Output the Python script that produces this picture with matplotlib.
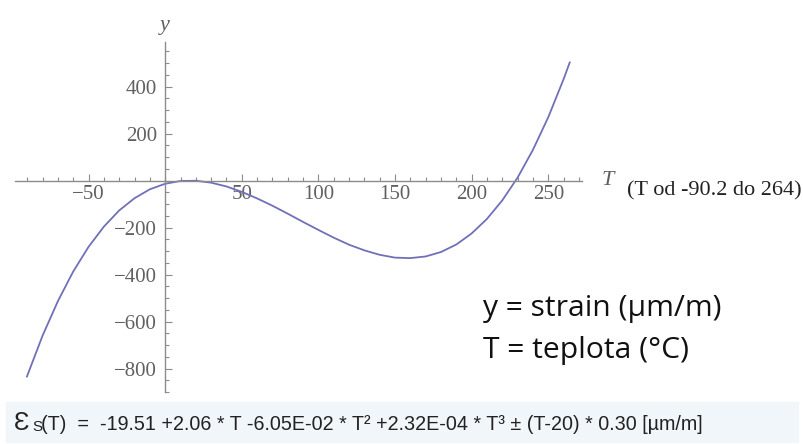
import matplotlib
matplotlib.use('Agg')
import matplotlib.pyplot as plt
from matplotlib.ticker import FixedLocator, MultipleLocator

# strain curve values (T in deg C, strain in um/m)
temps = [-90.2, -80, -70, -60, -50, -40, -30, -20, -10, 0, 10, 20, 30, 40, 50, 60, 70, 80, 90,
         100, 110, 120, 130, 140, 150, 160, 170, 180, 190, 200, 210, 220, 230, 240, 250, 260, 264]
strain = [-834, -660, -513, -387, -282, -196, -127, -75, -37, -13.5, -1.7, -0.6, -8.9, -25, -48, -76,
          -107, -141, -176, -210, -243, -273, -297, -316, -328, -330, -323, -304, -272, -225, -163,
          -84, 13, 131, 270, 432, 503]

x_ticks = [-50, 50, 100, 150, 200, 250]
y_ticks = [-800, -600, -400, -200, 200, 400]

line_col = '#7070b8'
axis_col = '#8c8c8c'
label_col = '#606060'

fig = plt.figure(figsize=(8.04, 4.44), dpi=100)
ax = fig.add_axes([15 / 804, 52 / 444, 567 / 804, 350 / 444])

ax.plot(temps, strain, color=line_col, lw=1.3)

ax.set_xlim(-98, 272)
ax.set_ylim(-900, 590)

for s in ['top', 'right']:
    ax.spines[s].set_visible(False)
ax.spines['left'].set_position(('data', 0))
ax.spines['bottom'].set_position(('data', 0))
for s in ['left', 'bottom']:
    ax.spines[s].set_color(axis_col)
    ax.spines[s].set_linewidth(1.0)

ax.xaxis.set_major_locator(FixedLocator(x_ticks))
ax.yaxis.set_major_locator(FixedLocator(y_ticks))
ax.xaxis.set_minor_locator(MultipleLocator(10))
ax.yaxis.set_minor_locator(MultipleLocator(50))
ax.set_xticklabels([str(v).replace('-', '\u2212') for v in x_ticks])
ax.set_yticklabels([str(v).replace('-', '\u2212') for v in y_ticks])
ax.tick_params(which='both', direction='in', color=axis_col, width=0.8)
ax.tick_params(which='major', length=5, labelsize=15, labelcolor=label_col)
ax.tick_params(axis='x', which='major', pad=3)
ax.tick_params(axis='y', which='major', pad=6)
ax.tick_params(which='minor', length=3)
for lab in ax.get_xticklabels() + ax.get_yticklabels():
    lab.set_family('Liberation Serif')

ax.text(0, 1.02, 'y', transform=ax.get_xaxis_transform(), ha='center', va='bottom',
        fontsize=16, style='italic', family='Liberation Serif', color=label_col)
ax.text(1.035, 0, 'T', transform=ax.get_yaxis_transform(), ha='left', va='center',
        fontsize=16, style='italic', family='Liberation Serif', color=label_col)

fig.text(627 / 804, 1 - 191 / 444, '(T od -90.2 do 264)', ha='left', va='center',
         fontsize=16, family='Liberation Serif', color='#222222')
fig.text(483 / 804, 1 - 308 / 444, 'y = strain (µm/m)', ha='left', va='center',
         fontsize=21.6, family='Open Sans', color='#111111')
fig.text(483 / 804, 1 - 350 / 444, 'T = teplota (°C)', ha='left', va='center',
         fontsize=21.6, family='Open Sans', color='#111111')

# formula strip at the bottom
fig.patches.append(plt.Rectangle((6 / 804, 1 - 442 / 444), 792 / 804, 40 / 444,
                                 transform=fig.transFigure, color='#f1f6fb', zorder=0))
fig.text(14 / 804, 1 - 423 / 444, '\u0190', ha='left', va='center',
         fontsize=18.5, family='Liberation Sans', color='#222222')
fig.text(32 / 804, 1 - 427 / 444, 'S', ha='left', va='center',
         fontsize=11, family='Liberation Sans', color='#222222')
fig.text(41 / 804, 1 - 424 / 444,
         '(T)  =  -19.51 +2.06 * T -6.05E-02 * T² +2.32E-04 * T³ ± (T-20) * 0.30 [µm/m]',
         ha='left', va='center', fontsize=14.2, family='Liberation Sans', color='#222222')

fig.savefig('out.png', dpi=100)
